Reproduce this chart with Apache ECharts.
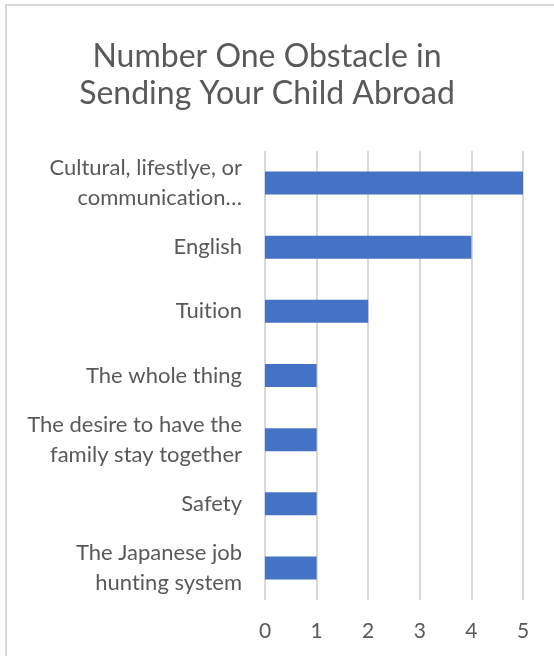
<!DOCTYPE html>
<html>
<head>
<meta charset="utf-8">
<script src="https://cdn.jsdelivr.net/npm/echarts@6/dist/echarts.min.js"></script>
<style>
  html, body { margin: 0; padding: 0; background: #fff; }
  #chart { width: 554px; height: 656px; }
</style>
</head>
<body>
<div id="chart"></div>
<script>
// Survey answers, listed top to bottom
const categories = [
  'Cultural, lifestlye, or\ncommunication…',
  'English',
  'Tuition',
  'The whole thing',
  'The desire to have the\nfamily stay together',
  'Safety',
  'The Japanese job\nhunting system'
];
const responses = [5, 4, 2, 1, 1, 1, 1];
const xTicks = [0, 1, 2, 3, 4, 5];

const textColor = '#595959';
const fontFamily = 'Lato, "Open Sans", sans-serif';

// keep "t" and "i" as separate glyphs instead of the font's "ti" ligature
const noLigature = s => s.replace(/ti/g, 't\u200Ci');

const chart = echarts.init(document.getElementById('chart'));
chart.setOption({
  animation: false,
  backgroundColor: '#fff',
  graphic: [{
    type: 'rect',
    shape: { x: 6, y: 5, width: 600, height: 700 },
    style: { fill: 'none', stroke: '#d9d9d9', lineWidth: 2 },
    silent: true
  }],
  title: {
    text: 'Number One Obstacle in\nSending Your Child Abroad',
    left: 262,
    top: 33,
    textAlign: 'center',
    textStyle: {
      fontFamily: fontFamily,
      fontSize: 32,
      fontWeight: 'normal',
      color: textColor,
      lineHeight: 37
    }
  },
  grid: { left: 265, right: 31, top: 151, bottom: 56, containLabel: false },
  xAxis: {
    type: 'value',
    min: xTicks[0],
    max: xTicks[xTicks.length - 1],
    interval: 1,
    axisLine: { show: false },
    axisTick: { show: false },
    axisLabel: {
      margin: 21,
      fontFamily: fontFamily,
      fontSize: 21,
      color: textColor,
      formatter: v => xTicks.includes(v) ? String(v) : ''
    },
    splitLine: { show: true, lineStyle: { color: '#d9d9d9', width: 2 } }
  },
  yAxis: {
    type: 'category',
    data: categories,
    inverse: true,
    axisLine: { show: false },
    axisTick: { show: false },
    axisLabel: {
      margin: 23,
      fontFamily: fontFamily,
      fontSize: 22,
      lineHeight: 30,
      color: textColor,
      align: 'right',
      formatter: noLigature
    }
  },
  series: [{
    type: 'bar',
    data: responses,
    barWidth: 23,
    itemStyle: { color: '#4472C4' }
  }]
});
</script>
</body>
</html>
